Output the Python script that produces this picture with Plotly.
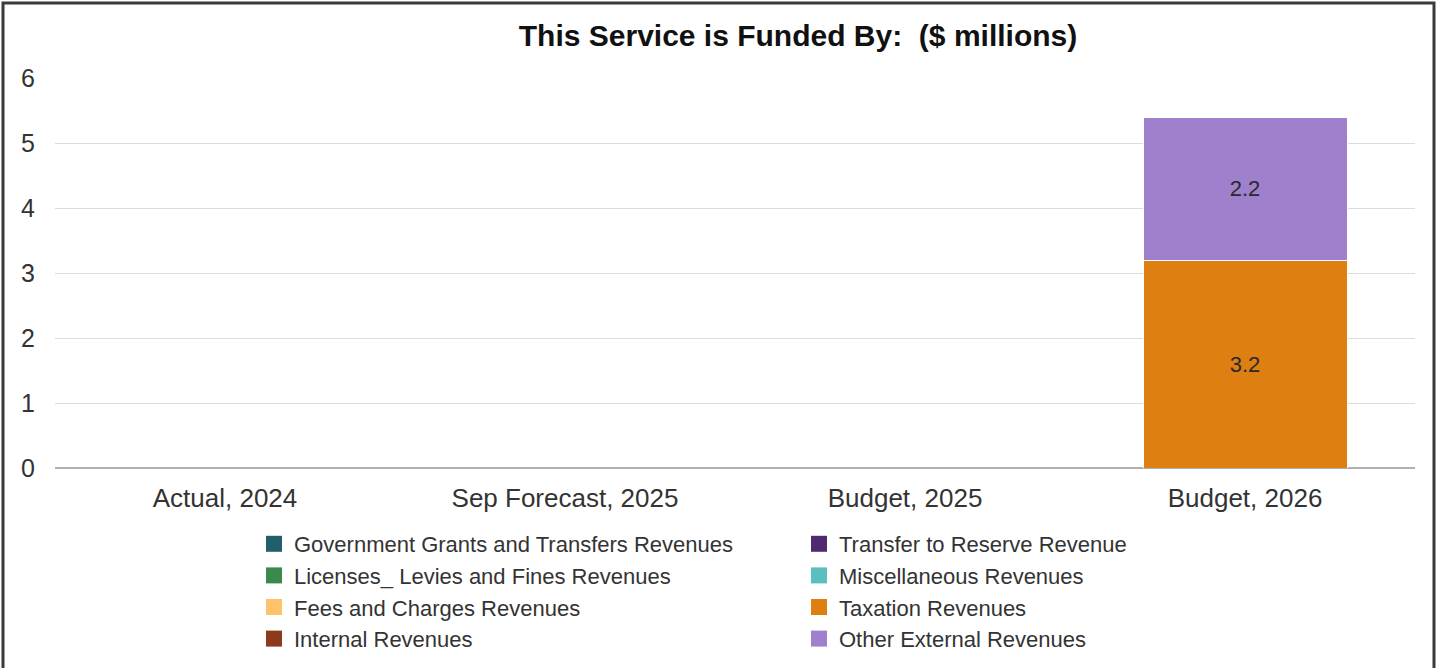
import plotly.graph_objects as go

# Categories and revenue series ($ millions)
categories = ["Actual, 2024", "Sep Forecast, 2025", "Budget, 2025", "Budget, 2026"]

gov_grants = [None, None, None, None]
licenses = [None, None, None, None]
fees = [None, None, None, None]
internal = [None, None, None, None]
transfer_reserve = [None, None, None, None]
miscellaneous = [None, None, None, None]
taxation = [None, None, None, 3.2]
other_external = [None, None, None, 2.2]

y_ticks = [0, 1, 2, 3, 4, 5, 6]

# (name, values, colour, legend column) in stacking order, bottom first
series = [
    ("Government Grants and Transfers Revenues", gov_grants, "#215f6a", "legend"),
    ("Licenses_ Levies and Fines Revenues", licenses, "#3a8a4e", "legend"),
    ("Fees and Charges Revenues", fees, "#ffc46b", "legend"),
    ("Internal Revenues", internal, "#8a3b1c", "legend"),
    ("Transfer to Reserve Revenue", transfer_reserve, "#4f2a6f", "legend2"),
    ("Miscellaneous Revenues", miscellaneous, "#5cbfbf", "legend2"),
    ("Taxation Revenues", taxation, "#de7f12", "legend2"),
    ("Other External Revenues", other_external, "#9e80cc", "legend2"),
]

FONT = "Liberation Sans, Arial, sans-serif"

fig = go.Figure()

for name, vals, color, _ in series:
    labels = [f"{v:.1f}" if v else "" for v in vals]
    fig.add_trace(go.Bar(
        x=categories, y=vals, name=name,
        marker=dict(color=color, line=dict(color="white", width=1)),
        text=labels, textposition="inside", insidetextanchor="middle",
        textangle=0, constraintext="none",
        textfont=dict(family=FONT, size=22, color="#2a2a2a"),
        legendgroup=name, showlegend=False, hoverinfo="x+y+name",
    ))

# Legend entries with larger square swatches, in two columns
for name, vals, color, leg in series:
    fig.add_trace(go.Scatter(
        x=[None], y=[None], mode="markers", name=name,
        marker=dict(symbol="square", size=16, color=color),
        legendgroup=name, legend=leg, showlegend=True,
    ))

ML, MR, MT, MB = 55, 22, 78, 200
W, H = 1437, 668
pw, ph = W - ML - MR, H - MT - MB


def px_x(p):
    return (p - ML) / pw


def px_y(p):
    return (H - MB - p) / ph


legend_style = dict(
    font=dict(family=FONT, size=22, color="#333333"),
    orientation="v", bgcolor="rgba(0,0,0,0)",
    tracegroupgap=0, xanchor="left", yanchor="top",
    itemclick="toggle",
)

fig.update_layout(
    width=W, height=H,
    margin=dict(l=ML, r=MR, t=MT, b=MB, autoexpand=False),
    paper_bgcolor="white", plot_bgcolor="white",
    barmode="stack", bargap=0.4,
    title=dict(
        text="This Service is Funded By:\u00a0 ($ millions)",
        font=dict(family=FONT, size=30, color="#111111", weight="bold"),
        x=798 / W, xanchor="center", xref="container",
        y=1 - 35 / H, yanchor="middle", yref="container",
    ),
    xaxis=dict(
        tickfont=dict(family=FONT, size=26, color="#333333"),
        showgrid=False, showline=False, ticks="",
        ticklabelstandoff=12,
    ),
    yaxis=dict(
        range=[0, 6], tickvals=y_ticks,
        tickfont=dict(family=FONT, size=25, color="#333333"),
        showgrid=True, gridcolor="#dcdcdc", gridwidth=1,
        zeroline=True, zerolinecolor="#b0b0b0", zerolinewidth=2,
        showline=False, ticks="", ticklabelstandoff=19,
    ),
    legend=dict(x=px_x(254), y=px_y(523), **legend_style),
    legend2=dict(x=px_x(799), y=px_y(523), **legend_style),
    shapes=[dict(
        type="rect", xref="paper", yref="paper",
        x0=px_x(3), x1=px_x(1434), y0=px_y(672), y1=px_y(3),
        line=dict(color="#3a3a3a", width=3), fillcolor="rgba(0,0,0,0)",
        layer="above",
    )],
    showlegend=True,
)

fig.write_html("out.html")
